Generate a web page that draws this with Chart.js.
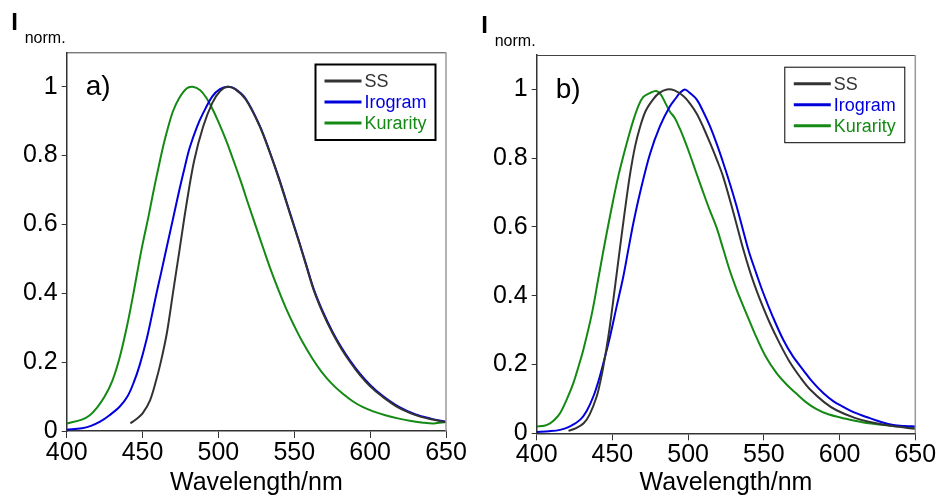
<!DOCTYPE html>
<html>
<head>
<meta charset="utf-8">
<script src="https://cdn.jsdelivr.net/npm/chart.js@4.4.1/dist/chart.umd.min.js"></script>
<style>
    body { margin: 0; background: #fff; }
    #corpo { position: relative; width: 938px; height: 498px; }
    canvas { position: absolute; top: 0; }
    #graficoA { left: 0; }
    #graficoB { left: 469px; }
</style>
</head>
<body>
<div id="corpo">
    <canvas id="graficoA" width="469" height="498"></canvas>
    <canvas id="graficoB" width="469" height="498"></canvas>
</div>
<script>
// nomes das series e cores
var nomesSeries = ['SS', 'Irogram', 'Kurarity']
var coresSeries = ['#333333', '#0000dd', '#148a14']
var ticksX = [400, 450, 500, 550, 600, 650]
var ticksY = [0, 0.2, 0.4, 0.6, 0.8, 1]

// painel a)
var ondaSS_a = [442, 446, 450, 455, 459, 462, 466, 470, 474.5, 479, 484, 490, 496, 501, 506, 511, 518, 527, 534, 540, 547, 553.5, 558, 563, 569, 575, 581, 587, 593, 600, 608, 619, 630, 640, 650]
var valorSS_a = [0.022, 0.035, 0.051, 0.09, 0.148, 0.2, 0.284, 0.40, 0.53, 0.66, 0.785, 0.885, 0.953, 0.987, 1.0, 0.993, 0.963, 0.887, 0.807, 0.73, 0.633, 0.543, 0.478, 0.407, 0.341, 0.286, 0.239, 0.199, 0.164, 0.13, 0.1, 0.067, 0.046, 0.034, 0.026]

var ondaIro_a = [400, 410, 416, 422, 428, 435, 440, 444, 448, 452.6, 456, 459.2, 462, 466, 470, 474.5, 478, 481, 486, 490, 496, 501, 506, 511, 518, 527, 534, 540, 547, 553.5, 558, 563, 569, 575, 581, 587, 593, 600, 608, 619, 630, 640, 650]
var valorIro_a = [0.004, 0.008, 0.015, 0.027, 0.045, 0.071, 0.10, 0.139, 0.19, 0.265, 0.333, 0.40, 0.455, 0.535, 0.615, 0.705, 0.77, 0.822, 0.885, 0.924, 0.972, 0.993, 1.0, 0.994, 0.965, 0.889, 0.809, 0.733, 0.636, 0.546, 0.481, 0.41, 0.345, 0.29, 0.243, 0.203, 0.168, 0.134, 0.103, 0.07, 0.048, 0.036, 0.027]

var ondaKur_a = [400, 410, 415, 420, 425, 430, 435, 440, 444, 449.3, 454, 457, 460, 463.6, 467, 470, 474, 479, 483, 488, 492, 496, 500, 505, 510, 515, 520, 525, 530, 535, 540, 545, 550, 555, 562, 568, 575, 582, 589, 595, 602, 610, 619, 627, 635, 642, 650]
var valorKur_a = [0.022, 0.033, 0.045, 0.068, 0.1, 0.145, 0.215, 0.31, 0.4, 0.527, 0.625, 0.692, 0.755, 0.827, 0.885, 0.928, 0.966, 0.995, 1.0, 0.99, 0.968, 0.936, 0.898, 0.845, 0.785, 0.722, 0.655, 0.59, 0.525, 0.462, 0.405, 0.352, 0.305, 0.262, 0.21, 0.172, 0.136, 0.108, 0.085, 0.07, 0.057, 0.046, 0.036, 0.029, 0.024, 0.022, 0.026]

// painel b)
var ondaSS_b = [421, 426, 431, 435, 439.6, 442, 444, 447.3, 450.6, 454, 458, 461.6, 465, 468.2, 472, 477, 481, 486, 491, 497, 501, 505.6, 510, 514.4, 519, 523.2, 530, 536.4, 541, 545.2, 549, 554, 560, 567, 574, 580.4, 590, 598, 610, 620, 635, 650]
var valorSS_b = [0.007, 0.015, 0.029, 0.055, 0.107, 0.15, 0.194, 0.281, 0.388, 0.505, 0.64, 0.752, 0.835, 0.89, 0.938, 0.972, 0.99, 1.0, 0.997, 0.98, 0.96, 0.93, 0.89, 0.845, 0.795, 0.745, 0.64, 0.535, 0.468, 0.415, 0.372, 0.32, 0.265, 0.208, 0.163, 0.128, 0.09, 0.067, 0.045, 0.033, 0.021, 0.013]

var ondaIro_b = [400, 408, 415.4, 422, 428.6, 433, 437.4, 441, 444, 448.4, 452.8, 457.2, 460.5, 464, 468.2, 474.8, 481.4, 488, 492, 494.6, 497.9, 501, 505.6, 510, 514.4, 519, 523.2, 528, 532, 536, 540, 545, 549.6, 556, 562.8, 569, 576, 582, 589.2, 596, 602.4, 610, 620, 628, 635.4, 643, 650]
var valorIro_b = [0.004, 0.006, 0.01, 0.02, 0.039, 0.065, 0.107, 0.155, 0.204, 0.281, 0.369, 0.456, 0.534, 0.615, 0.699, 0.812, 0.893, 0.951, 0.975, 0.99, 1.0, 0.99, 0.971, 0.935, 0.893, 0.84, 0.786, 0.72, 0.66, 0.595, 0.53, 0.465, 0.408, 0.338, 0.272, 0.225, 0.184, 0.15, 0.117, 0.093, 0.077, 0.06, 0.044, 0.032, 0.024, 0.021, 0.02]

var ondaKur_b = [400, 405, 408.8, 412, 415.4, 420, 424.2, 428, 430.8, 436.3, 440.7, 444, 447, 450.6, 454, 457.2, 460.5, 463.8, 467, 470.4, 475, 479, 482, 485, 488, 491, 494.6, 498, 501.2, 505, 510, 514, 518.8, 523.2, 527.6, 532, 536.4, 540, 545.2, 551, 558.4, 565, 571.6, 578, 584.8, 592, 602.4, 615, 628.8, 640, 650]
var valorKur_b = [0.02, 0.022, 0.029, 0.04, 0.058, 0.1, 0.146, 0.2, 0.243, 0.345, 0.45, 0.53, 0.6, 0.68, 0.75, 0.806, 0.86, 0.91, 0.95, 0.978, 0.99, 0.995, 0.985, 0.96, 0.935, 0.918, 0.885, 0.848, 0.81, 0.762, 0.7, 0.652, 0.598, 0.535, 0.472, 0.418, 0.37, 0.332, 0.278, 0.225, 0.175, 0.142, 0.115, 0.09, 0.07, 0.056, 0.044, 0.032, 0.024, 0.02, 0.018]

Chart.defaults.font.family = '"Liberation Sans", Arial, sans-serif'

function juntarPontos(ondas, valores){
    var pontos = []
    ondas.forEach(function (onda, i){
        pontos.push({x: onda, y: valores[i]})
    })
    return pontos
}

function montarDatasets(listaOndas, listaValores){
    var datasets = []
    nomesSeries.forEach(function (nome, i){
        datasets.push({
            label: nome,
            data: juntarPontos(listaOndas[i], listaValores[i]),
            borderColor: coresSeries[i],
            borderWidth: 2,
            pointRadius: 0,
            tension: 0.35
        })
    })
    return datasets
}

// moldura, legenda dentro do grafico e textos extras
var pluginMoldura = {
    id: 'moldura',
    afterDraw: function (chart, args, opcoes){
        var ctx = chart.ctx
        var area = chart.chartArea
        ctx.save()

        ctx.strokeStyle = '#444'
        ctx.lineWidth = 1
        ctx.beginPath()
        ctx.moveTo(area.left, area.top + 0.5)
        ctx.lineTo(area.right, area.top + 0.5)
        ctx.stroke()
        ctx.strokeStyle = '#999'
        ctx.lineWidth = 1.5
        ctx.beginPath()
        ctx.moveTo(area.right, area.top)
        ctx.lineTo(area.right, area.bottom)
        ctx.stroke()

        ctx.fillStyle = '#000'
        ctx.textBaseline = 'alphabetic'
        ctx.textAlign = 'left'
        ctx.font = 'bold 24px "Liberation Sans", Arial, sans-serif'
        ctx.fillText('I', area.left - 55.5, area.top - 22)
        ctx.font = '16px "Liberation Sans", Arial, sans-serif'
        ctx.fillText('norm.', area.left - 42, area.top - 9)

        ctx.font = '28px "Liberation Sans", Arial, sans-serif'
        ctx.fillText(opcoes.letra, area.left + 19, area.top + 42.5)

        // legenda
        var caixaX = area.right - 130.5
        var caixaY = area.top + 12.2
        ctx.strokeStyle = '#000'
        ctx.lineWidth = opcoes.bordaLegenda
        ctx.strokeRect(caixaX, caixaY, 120, 75.5)
        ctx.font = '18px "Liberation Sans", Arial, sans-serif'
        ctx.textBaseline = 'middle'
        chart.data.datasets.forEach(function (ds, i){
            var linhaY = caixaY + 16.5 + i * 21
            ctx.strokeStyle = ds.borderColor
            ctx.lineWidth = 3
            ctx.beginPath()
            ctx.moveTo(caixaX + 9, linhaY)
            ctx.lineTo(caixaX + 46, linhaY)
            ctx.stroke()
            ctx.fillStyle = ds.borderColor
            ctx.fillText(ds.label, caixaX + 49, linhaY + 1)
        })
        ctx.restore()
    }
}

function formatarTick(valor){
    return String(Math.round(valor * 10) / 10)
}

function criarGrafico(idCanvas, datasets, letra, medidas){
    var config = {
        type: 'line',
        data: { datasets: datasets },
        plugins: [pluginMoldura],
        options: {
            responsive: false,
            animation: false,
            layout: {
                padding: { left: 0, top: medidas.topo, right: medidas.direita, bottom: 0 }
            },
            plugins: {
                legend: { display: false },
                tooltip: { enabled: false },
                moldura: { letra: letra, bordaLegenda: medidas.borda }
            },
            scales: {
                x: {
                    type: 'linear',
                    min: 400,
                    max: 650,
                    afterBuildTicks: function (escala){
                        escala.ticks = ticksX.map(function (v){ return {value: v} })
                    },
                    afterFit: function (escala){ escala.height = medidas.alturaX },
                    ticks: { color: '#000', font: { size: 25 }, padding: 0, maxRotation: 0, autoSkip: false, callback: formatarTick },
                    grid: { drawOnChartArea: false, drawTicks: true, tickLength: 7, color: '#333' },
                    border: { display: true, color: '#333', width: 1.5 },
                    title: { display: true, text: 'Wavelength/nm', color: '#000', font: { size: 25 }, padding: { top: 0, bottom: 0 } }
                },
                y: {
                    min: 0,
                    max: 1.1,
                    afterBuildTicks: function (escala){
                        escala.ticks = ticksY.map(function (v){ return {value: v} })
                    },
                    afterFit: function (escala){ escala.width = medidas.larguraY },
                    ticks: { color: '#000', font: { size: 25 }, padding: 4, callback: formatarTick },
                    grid: { drawOnChartArea: false, drawTicks: true, tickLength: 5, color: '#333' },
                    border: { display: true, color: '#333', width: 1.5 }
                }
            }
        }
    }
    return new Chart(document.getElementById(idCanvas), config)
}

criarGrafico('graficoA',
    montarDatasets([ondaSS_a, ondaIro_a, ondaKur_a], [valorSS_a, valorIro_a, valorKur_a]),
    'a)', { topo: 52.3, direita: 23, alturaX: 67, larguraY: 66.7, borda: 2 })

criarGrafico('graficoB',
    montarDatasets([ondaSS_b, ondaIro_b, ondaKur_b], [valorSS_b, valorIro_b, valorKur_b]),
    'b)', { topo: 55, direita: 22.7, alturaX: 64.7, larguraY: 67.7, borda: 1 })
</script>
</body>
</html>
